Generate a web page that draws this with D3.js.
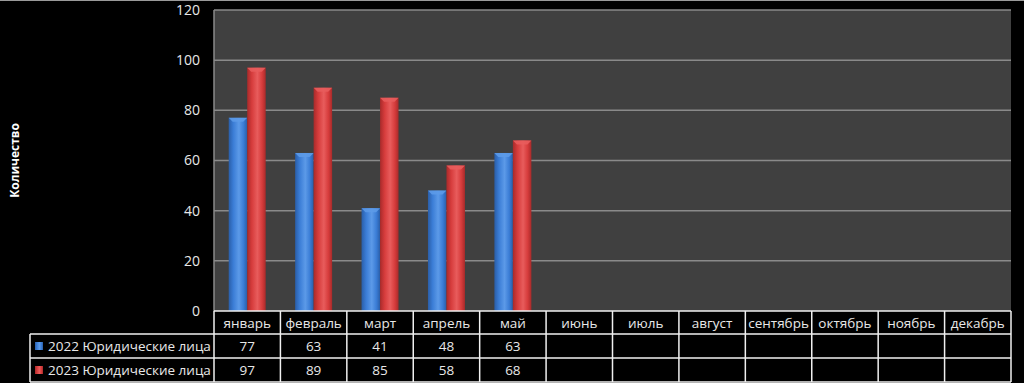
<!DOCTYPE html>
<html>
<head>
<meta charset="utf-8">
<script src="https://cdn.jsdelivr.net/npm/d3@7"></script>
<style>
  html, body { margin: 0; padding: 0; background: #000; }
  svg { display: block; }
  text { font-family: "Open Sans", sans-serif; fill: #e8e8e8; }
</style>
</head>
<body>
<svg id="chart" width="1024" height="383"></svg>
<script>
// data
var months = ['январь','февраль','март','апрель','май','июнь','июль','август','сентябрь','октябрь','ноябрь','декабрь'];
var seriesNames = ['2022 Юридические лица','2023 Юридические лица'];
var values2022 = [77, 63, 41, 48, 63, null, null, null, null, null, null, null];
var values2023 = [97, 89, 85, 58, 68, null, null, null, null, null, null, null];
var yTicks = [0, 20, 40, 60, 80, 100, 120];

var colors = ['#3b7dd6', '#d63c3c'];
var dark = ['#2a5ea8', '#a82a2a'];
var light = ['#5c9ae8', '#e85c5c'];

var svg = d3.select('#chart');
var plotL = 214, plotR = 1011, plotT = 10, plotB = 311;
var rowH = [23, 24, 24];
var legendL = 30;

// top thin line
svg.append('line').attr('x1', 0).attr('x2', 1024).attr('y1', 0.5).attr('y2', 0.5)
   .style('stroke', '#9a9a9a').style('stroke-width', 1);

var x = d3.scaleBand().domain(months).range([plotL, plotR]);
var groupW = 37;
var x1 = d3.scaleBand().domain([0, 1]).range([(x.bandwidth() - groupW) / 2, (x.bandwidth() + groupW) / 2]);
var y = d3.scaleLinear().domain([0, 120]).range([plotB, plotT]);

// gradients for the cylinder look
var defs = svg.append('defs');
[0, 1].forEach(function(s){
    var g = defs.append('linearGradient').attr('id', 'grad' + s)
        .attr('x1', '0%').attr('x2', '100%').attr('y1', '0%').attr('y2', '0%');
    g.append('stop').attr('offset', '0%').attr('stop-color', dark[s]);
    g.append('stop').attr('offset', '25%').attr('stop-color', colors[s]);
    g.append('stop').attr('offset', '55%').attr('stop-color', light[s]);
    g.append('stop').attr('offset', '80%').attr('stop-color', colors[s]);
    g.append('stop').attr('offset', '100%').attr('stop-color', dark[s]);
});

// plot background
svg.append('rect').attr('x', plotL).attr('y', plotT)
   .attr('width', plotR - plotL).attr('height', plotB - plotT)
   .style('fill', '#404040');

// gridlines
svg.append('g').selectAll('line').data(yTicks.filter(function(d){ return d > 0; })).enter()
   .append('line')
   .attr('x1', plotL).attr('x2', plotR)
   .attr('y1', function(d){ return y(d); }).attr('y2', function(d){ return y(d); })
   .style('stroke', '#8a8a8a').style('stroke-width', 1.5);

svg.append('line').attr('x1', plotL).attr('x2', plotL).attr('y1', plotT).attr('y2', plotB)
   .style('stroke', '#8a8a8a').style('stroke-width', 1.5);

// y axis labels
var yAxis = d3.axisLeft(y).tickValues(yTicks).tickSize(0).tickPadding(0);
var yg = svg.append('g').attr('transform', 'translate(' + 200 + ',0)').call(yAxis);
yg.select('.domain').remove();
yg.selectAll('text').style('font-size', '14px').style('fill', '#e8e8e8')
  .style('font-family', '"Open Sans", sans-serif');

svg.append('text')
   .attr('transform', 'translate(19,' + (plotT + plotB) / 2 + ') rotate(-90)')
   .attr('text-anchor', 'middle')
   .style('font-size', '12px').style('font-weight', 'bold').style('fill', '#fff')
   .text('Количество');

// bars
var series = [values2022, values2023];
series.forEach(function(vals, s){
    var bars = svg.append('g').selectAll('g').data(vals.map(function(v, i){ return {m: months[i], v: v}; })
        .filter(function(d){ return d.v != null; })).enter().append('g');
    bars.append('rect')
        .attr('x', function(d){ return x(d.m) + x1(s); })
        .attr('y', function(d){ return y(d.v); })
        .attr('width', x1.bandwidth())
        .attr('height', function(d){ return plotB - y(d.v); })
        .style('fill', 'url(#grad' + s + ')');
    // bevelled cap
    bars.append('path')
        .attr('d', function(d){
            var bx = x(d.m) + x1(s), bw = x1.bandwidth(), by = y(d.v);
            return 'M' + bx + ',' + by + 'L' + (bx + bw) + ',' + by +
                   'L' + (bx + bw - 4) + ',' + (by + 4) + 'L' + (bx + 4) + ',' + (by + 4) + 'Z';
        })
        .style('fill', light[s]).style('opacity', 0.9);
});

// data table
var table = svg.append('g');
var rowsY = [plotB, plotB + rowH[0], plotB + rowH[0] + rowH[1], plotB + rowH[0] + rowH[1] + rowH[2]];
var lineStyle = function(sel){ return sel.style('stroke', '#f0f0f0').style('stroke-width', 1.5); };

// horizontal lines
lineStyle(table.append('line').attr('x1', plotL).attr('x2', plotR).attr('y1', rowsY[0]).attr('y2', rowsY[0]));
[1, 2, 3].forEach(function(r){
    lineStyle(table.append('line').attr('x1', legendL).attr('x2', plotR).attr('y1', rowsY[r]).attr('y2', rowsY[r]));
});
// vertical lines
lineStyle(table.append('line').attr('x1', legendL).attr('x2', legendL).attr('y1', rowsY[1]).attr('y2', rowsY[3]));
months.concat(['end']).forEach(function(m, i){
    var xx = i < months.length ? x(m) : plotR;
    lineStyle(table.append('line').attr('x1', xx).attr('x2', xx).attr('y1', rowsY[0]).attr('y2', rowsY[3]));
});

// month headers
table.selectAll('text.month').data(months).enter().append('text')
    .attr('class', 'month')
    .attr('x', function(d){ return x(d) + x.bandwidth() / 2; })
    .attr('y', (rowsY[0] + rowsY[1]) / 2 + 5)
    .attr('text-anchor', 'middle')
    .style('font-size', '13.5px')
    .text(function(d){ return d; });

// legend cells + values
series.forEach(function(vals, s){
    var cy = (rowsY[s + 1] + rowsY[s + 2]) / 2;
    table.append('rect').attr('x', 35).attr('y', cy - 4).attr('width', 8).attr('height', 8)
        .style('fill', 'url(#grad' + s + ')');
    table.append('text').attr('x', 48).attr('y', cy + 5)
        .style('font-size', '13.5px').text(seriesNames[s]);
    table.selectAll('text.v' + s).data(vals).enter().append('text')
        .attr('class', 'v' + s)
        .attr('x', function(d, i){ return x(months[i]) + x.bandwidth() / 2; })
        .attr('y', cy + 5)
        .attr('text-anchor', 'middle')
        .style('font-size', '13.5px')
        .text(function(d){ return d == null ? '' : d; });
});
</script>
</body>
</html>
